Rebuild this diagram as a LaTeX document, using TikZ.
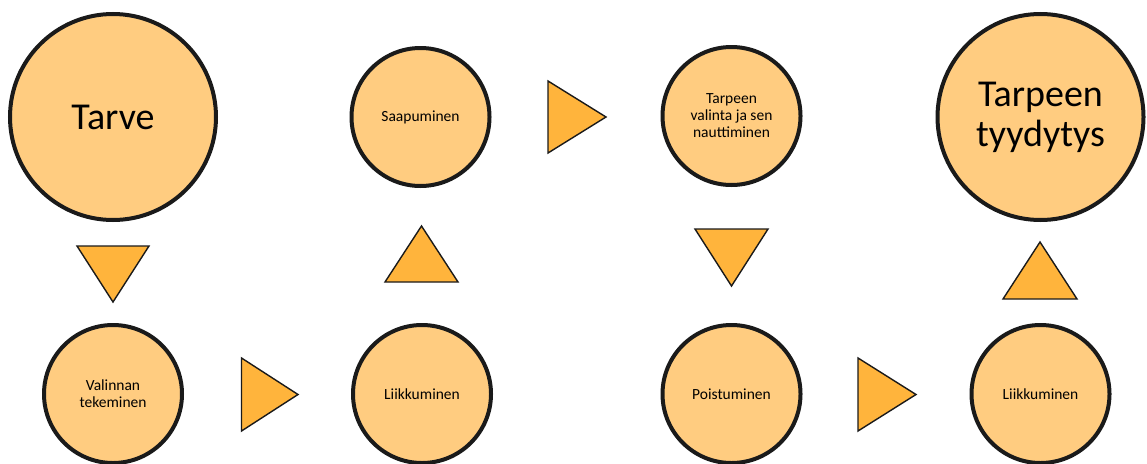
\documentclass[tikz,border=0pt]{standalone}
\usepackage{fontspec}
\setmainfont{Carlito}
\definecolor{circfill}{HTML}{FFCC80}
\definecolor{trifill}{HTML}{FFB43C}
\definecolor{ink}{HTML}{1A1A1A}
\begin{document}
\begin{tikzpicture}[x=1pt,y=-1pt,
  bigc/.style={circle, draw=ink, line width=4pt, fill=circfill, inner sep=0pt,
    minimum size=206pt, align=center, text=black,
    font=\fontsize{38}{40}\selectfont},
  smallc/.style={circle, draw=ink, line width=4pt, fill=circfill, inner sep=0pt,
    minimum size=138pt, align=center, text=black,
    font=\fontsize{15.5}{17}\selectfont},
  arrowtri/.style={draw=ink, line width=1.4pt, fill=trifill, line join=miter}]
\useasboundingbox (0,0) rectangle (1147,463);
% circles
\node[bigc]   (tarve)  at (113,117)    {Tarve};
\node[smallc] (valin)  at (113,394)    {Valinnan\\tekeminen};
\node[smallc] (liik1)  at (422,394)    {Liikkuminen};
\node[smallc] (saap)   at (420.5,117)  {Saapuminen};
\node[smallc] (nautt)  at (731.5,116)  {Tarpeen\\valinta ja sen\\nauttiminen};
\node[smallc] (poist)  at (731.5,394)  {Poistuminen};
\node[smallc] (liik2)  at (1040.5,394) {Liikkuminen};
\node[bigc]   (tyyd)   at (1040.5,117) {Tarpeen\\tyydytys};
% triangle markers
\coordinate (t1) at (113,274);
\coordinate (t2) at (269.5,394.5);
\coordinate (t3) at (421.5,254);
\coordinate (t4) at (577,117);
\coordinate (t5) at (731.5,257.5);
\coordinate (t6) at (887,394.5);
\coordinate (t7) at (1040,270.5);
\draw[arrowtri, shift={(t1)}] (-36,-28) -- (36,-28) -- (0,28) -- cycle;
\draw[arrowtri, shift={(t2)}] (-28,-36.5) -- (-28,36.5) -- (28.5,0) -- cycle;
\draw[arrowtri, shift={(t3)}] (-36.5,28) -- (36.5,28) -- (0,-28) -- cycle;
\draw[arrowtri, shift={(t4)}] (-29,-36) -- (-29,36) -- (29,0) -- cycle;
\draw[arrowtri, shift={(t5)}] (-36.5,-28.5) -- (36.5,-28.5) -- (0,28.5) -- cycle;
\draw[arrowtri, shift={(t6)}] (-29,-36.5) -- (-29,36.5) -- (29,0) -- cycle;
\draw[arrowtri, shift={(t7)}] (-37,28.5) -- (37,28.5) -- (0,-28.5) -- cycle;
\end{tikzpicture}
\end{document}
